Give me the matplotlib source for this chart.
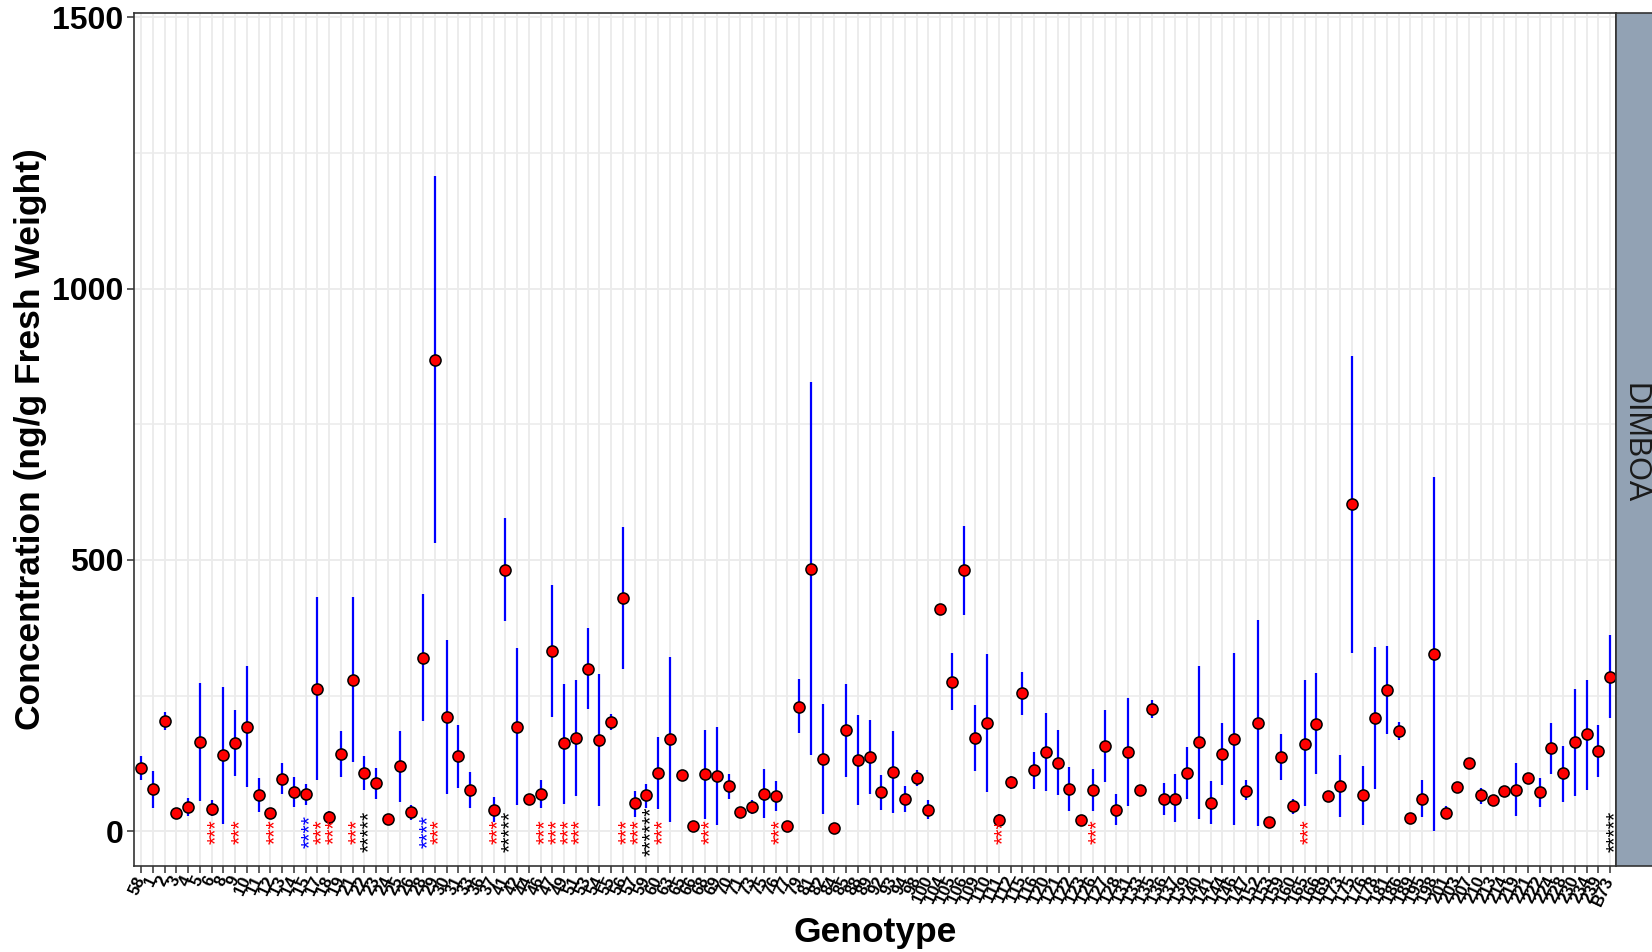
import numpy as np
import matplotlib
matplotlib.use("Agg")
import matplotlib.pyplot as plt
from matplotlib.patches import Rectangle
from matplotlib.transforms import offset_copy

plt.rcParams['font.family'] = ['Liberation Sans', 'DejaVu Sans']

genotypes = ["58", "1", "2", "3", "4", "5", "6", "8", "9", "10",
             "11", "12", "13", "14", "15", "17", "18", "19", "21", "22",
             "23", "24", "25", "26", "28", "29", "30", "31", "33", "36",
             "37", "41", "42", "44", "46", "47", "49", "51", "53", "54",
             "55", "56", "57", "59", "60", "63", "65", "66", "68", "69",
             "70", "71", "73", "75", "76", "77", "79", "81", "82", "84",
             "85", "88", "89", "92", "93", "94", "98", "100", "104", "105",
             "106", "109", "110", "111", "112", "115", "116", "120", "121", "122",
             "123", "126", "127", "128", "131", "133", "135", "136", "137", "139",
             "140", "141", "144", "146", "147", "152", "153", "159", "160", "165",
             "166", "169", "173", "175", "176", "178", "181", "186", "189", "195",
             "198", "201", "203", "207", "210", "213", "214", "219", "221", "222",
             "224", "228", "230", "234", "239", "B73"]

nan = np.nan
mean = [116, 78, 203, 34, 44, 165, 42, 140, 162, 193,
        67, 34, 96, 73, 68, 263, 26, 143, 279, 108,
        89, 22, 120, 35, 320, 869, 210, 138, 76, nan,
        39, 482, 193, 60, 68, 332, 162, 172, 300, 168,
        202, 430, 52, 66, 108, 170, 104, 10, 105, 102,
        83, 36, 44, 69, 65, 10, 230, 484, 133, 6,
        186, 132, 137, 72, 109, 60, 99, 40, 410, 276,
        481, 172, 200, 21, 91, 254, 113, 147, 126, 78,
        21, 77, 158, 40, 146, 76, 225, 60, 60, 107,
        164, 52, 142, 170, 75, 199, 17, 137, 46, 161,
        198, 65, 84, 603, 67, 209, 261, 185, 24, 60,
        327, 34, 81, 126, 66, 57, 75, 76, 99, 72,
        153, 107, 164, 179, 148, 285]

lower = [94, 43, 186, nan, 29, 55, 28, 14, 102, 81,
         35, nan, 68, 44, 49, 94, 14, 101, 128, 77,
         60, nan, 54, 21, 203, 531, 68, 80, 43, nan,
         17, 388, 49, nan, 43, 210, 51, 65, 226, 46,
         187, 300, 27, 43, 41, 18, nan, nan, 23, 11,
         59, nan, 32, 24, 38, nan, 181, 141, 32, nan,
         100, 49, 69, 40, 34, 35, 84, 23, nan, 223,
         399, 111, 73, 10, 78, 214, 78, 74, 66, 38,
         nan, 38, 91, 12, 47, nan, 208, 30, 17, 59,
         22, 14, 86, 12, 57, 9, nan, 95, 31, 46,
         105, nan, 27, 328, 12, 78, 180, 169, 17, 26,
         0, 22, nan, nan, 51, nan, nan, 28, nan, 44,
         106, 54, 65, 77, 100, 208]

upper = [138, 112, 220, nan, 61, 274, 58, 266, 223, 304,
         99, nan, 125, 101, 88, 431, 38, 185, 431, 138,
         117, nan, 185, 49, 437, 1207, 353, 195, 110, nan,
         64, 577, 338, nan, 94, 454, 272, 279, 374, 290,
         217, 560, 75, 88, 174, 322, nan, nan, 187, 192,
         106, nan, 58, 114, 93, nan, 280, 828, 234, nan,
         272, 215, 205, 103, 184, 84, 113, 58, nan, 329,
         562, 232, 327, 32, 102, 294, 147, 218, 186, 118,
         nan, 115, 224, 69, 245, nan, 242, 89, 105, 155,
         305, 92, 199, 329, 94, 390, nan, 180, 60, 279,
         292, nan, 140, 876, 121, 340, 342, 202, 34, 94,
         653, 46, nan, nan, 80, nan, nan, 126, nan, 99,
         199, 158, 263, 279, 195, 362]

star_genotypes = ["6", "9", "12", "15", "17", "18", "21", "22", "28", "29",
                  "37", "41", "46", "47", "49", "51", "56", "57", "59", "60",
                  "68", "76", "111", "126", "165", "B73"]
star_labels = ["***", "***", "***", "****", "***", "***", "***", "*****", "****", "***",
               "***", "*****", "***", "***", "***", "***", "***", "***", "******", "***",
               "***", "***", "***", "***", "***", "*****"]
star_colors = {3: "#FF0000", 4: "#0000FF", 5: "#000000", 6: "#000000"}

x = np.arange(len(genotypes))
mean = np.array(mean, dtype=float)
lower = np.array(lower, dtype=float)
upper = np.array(upper, dtype=float)

fig = plt.figure(figsize=(16.52, 9.52), dpi=100)
ax = fig.add_axes([0.0811, 0.0903, 0.8971, 0.8960])

ax.set_xlim(-0.6, len(genotypes) - 0.5)
ax.set_ylim(-64, 1508)

ax.set_yticks([0, 500, 1000, 1500])
ax.set_yticks([250, 750, 1250], minor=True)
ax.set_xticks(x)
ax.set_xticklabels(genotypes, rotation=65, ha='right', va='center',
                   rotation_mode='anchor', fontsize=12, fontweight='bold')
for lab in ax.get_yticklabels():
    lab.set_fontweight('bold')
ax.tick_params(axis='y', which='major', labelsize=23, length=5, width=1.1,
               color='#333333', pad=2.5)
ax.tick_params(axis='y', which='minor', length=0)
ax.tick_params(axis='x', which='major', length=5, width=1.1, color='#333333', pad=3)

ax.grid(True, which='major', color='#EBEBEB', linewidth=1.3)
ax.grid(True, which='minor', axis='y', color='#EBEBEB', linewidth=1.1)
ax.set_axisbelow(True)
for s in ax.spines.values():
    s.set_color('#333333')
    s.set_linewidth(1.2)

valid = ~np.isnan(lower)
ax.vlines(x[valid], lower[valid], upper[valid], color='#0000FF', linewidth=1.6, zorder=2)
ax.plot(x, mean, linestyle='none', marker='o', markersize=8,
        markerfacecolor='#FF0000', markeredgecolor='black', markeredgewidth=1.1, zorder=3)

star_trans = offset_copy(ax.transData, fig=fig, x=3.5, y=0, units='points')
for g, s in zip(star_genotypes, star_labels):
    xi = genotypes.index(g)
    ax.text(xi, 0, s, rotation=90, ha='center', va='center', rotation_mode='anchor',
            fontsize=15.5, color=star_colors[len(s)], transform=star_trans, zorder=4)

ax.set_xlabel("Genotype", fontsize=25.5, fontweight='bold')
ax.xaxis.set_label_coords(0.5, -0.058)
ax.set_ylabel("Concentration (ng/g Fresh Weight)", fontsize=25.5, fontweight='bold')
ax.yaxis.set_label_coords(-0.059, 0.5)

strip = Rectangle((0.9782, 0.0903), 0.04, 0.8960, transform=fig.transFigure,
                  facecolor='#92A2B4', edgecolor='#333333', linewidth=1.2, clip_on=False)
fig.patches.append(strip)
fig.text(0.9893, 0.5345, "DIMBOA", rotation=270, ha='center', va='center',
         fontsize=22, color='#1A1A1A')

fig.savefig("out.png", dpi=100)
